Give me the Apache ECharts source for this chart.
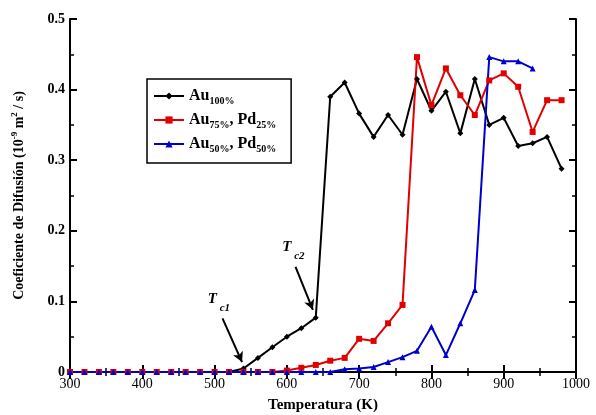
<!DOCTYPE html>
<html>
<head>
<meta charset="utf-8">
<script src="https://cdn.jsdelivr.net/npm/echarts@6/dist/echarts.min.js"></script>
<style>
  html, body { margin: 0; padding: 0; background: #fff; }
  #main { width: 596px; height: 415px; }
</style>
</head>
<body>
<div id="main"></div>
<script>
// temperaturas (K) y coeficientes de difusion (10^-9 m^2/s)
var tempAu = [300, 320, 340, 360, 380, 400, 420, 440, 460, 480, 500, 520, 540, 560, 580, 600, 620, 640,
    660, 680, 700, 720, 740, 760, 780, 800, 820, 840, 860, 880, 900, 920, 940, 960, 980];
var difAu = [0, 0, 0, 0, 0, 0, 0, 0, 0, 0, 0, 0, 0.005, 0.02, 0.035, 0.05, 0.062, 0.077,
    0.39, 0.41, 0.366, 0.333, 0.364, 0.336, 0.415, 0.37, 0.397, 0.338, 0.415, 0.35, 0.36, 0.32, 0.324, 0.333, 0.288];

var tempAu75 = [300, 320, 340, 360, 380, 400, 420, 440, 460, 480, 500, 520, 540, 560, 580, 600, 620, 640,
    660, 680, 700, 720, 740, 760, 780, 800, 820, 840, 860, 880, 900, 920, 940, 960, 980];
var difAu75 = [0, 0, 0, 0, 0, 0, 0, 0, 0, 0, 0, 0, 0, 0, 0, 0.002, 0.006, 0.01,
    0.016, 0.02, 0.047, 0.044, 0.069, 0.095, 0.446, 0.378, 0.43, 0.392, 0.364, 0.413, 0.423, 0.404, 0.34, 0.385, 0.385];

var tempAu50 = [300, 320, 340, 360, 380, 400, 420, 440, 460, 480, 500, 520, 540, 560, 580, 600, 620, 640,
    660, 680, 700, 720, 740, 760, 780, 800, 820, 840, 860, 880, 900, 920, 940];
var difAu50 = [0, 0, 0, 0, 0, 0, 0, 0, 0, 0, 0, 0, 0, 0, 0, 0, 0, 0,
    0, 0.004, 0.005, 0.007, 0.014, 0.021, 0.03, 0.064, 0.024, 0.069, 0.116, 0.446, 0.44, 0.44, 0.43];

var nombres = ['Au100', 'Au75Pd25', 'Au50Pd50'];
var etiquetas = {
    'Au100': '{n|Au}{s|100%}',
    'Au75Pd25': '{n|Au}{s|75%}{n|, Pd}{s|25%}',
    'Au50Pd50': '{n|Au}{s|50%}{n|, Pd}{s|50%}'
};

function pares(xs, ys) {
    var out = [];
    for (var i = 0; i < xs.length; i++) out.push([xs[i], ys[i]]);
    return out;
}

var fuente = 'Liberation Serif';
var richSub = {
    n: { fontFamily: fuente, fontSize: 16, fontWeight: 'bold', color: '#000', lineHeight: 20, verticalAlign: 'middle' },
    s: { fontFamily: fuente, fontSize: 10, fontWeight: 'bold', color: '#000', lineHeight: 20, verticalAlign: 'bottom' }
};

var ejeX = {
    type: 'value', min: 300, max: 1000, interval: 100,
    axisLine: { lineStyle: { color: '#000', width: 2 } },
    axisTick: { inside: true, length: 7, lineStyle: { color: '#000', width: 2 } },
    minorTick: { show: true, splitNumber: 2, length: 4, lineStyle: { color: '#000', width: 1.5 } },
    splitLine: { show: false }
};
var ejeY = {
    type: 'value', min: 0, max: 0.5, interval: 0.1,
    axisLine: { lineStyle: { color: '#000', width: 2 } },
    axisTick: { inside: true, length: 7, lineStyle: { color: '#000', width: 2 } },
    minorTick: { show: true, splitNumber: 2, length: 4, lineStyle: { color: '#000', width: 1.5 } },
    splitLine: { show: false }
};

var chart = echarts.init(document.getElementById('main'));
var option = {
    animation: false,
    grid: { left: 70, right: 20, top: 19, bottom: 43, outerBoundsMode: 'none' },
    legend: {
        data: nombres,
        orient: 'vertical',
        left: 147, top: 79,
        padding: [9, 15, 9, 6],
        itemGap: 6,
        itemWidth: 30, itemHeight: 9,
        borderColor: '#000', borderWidth: 1.5,
        formatter: function (name) { return etiquetas[name]; },
        textStyle: { rich: richSub }
    },
    xAxis: [
        Object.assign({}, ejeX, {
            position: 'bottom',
            name: 'Temperatura (K)', nameLocation: 'middle', nameGap: 26,
            nameTextStyle: { fontFamily: fuente, fontSize: 15, fontWeight: 'bold', color: '#000' },
            axisLabel: { fontFamily: fuente, fontSize: 14, color: '#000', margin: 5, formatter: function (v) { return String(v); } }
        }),
        Object.assign({}, ejeX, { position: 'top', axisLabel: { show: false } })
    ],
    yAxis: [
        Object.assign({}, ejeY, {
            position: 'left',
            name: '{n|Coeficiente de Difusión (10}{p|-9}{n| m}{p|2}{n| / s)}',
            nameLocation: 'middle', nameGap: 42,
            nameTextStyle: {
                rich: {
                    n: { fontFamily: fuente, fontSize: 14, fontWeight: 'bold', color: '#000', lineHeight: 18, verticalAlign: 'middle' },
                    p: { fontFamily: fuente, fontSize: 9, fontWeight: 'bold', color: '#000', lineHeight: 18, verticalAlign: 'top' }
                }
            },
            axisLabel: { fontFamily: fuente, fontSize: 14, fontWeight: 'bold', color: '#000', margin: 5 }
        }),
        Object.assign({}, ejeY, { position: 'right', axisLabel: { show: false } })
    ],
    series: [
        {
            name: 'Au100', type: 'line', data: pares(tempAu, difAu),
            symbol: 'diamond', symbolSize: 6,
            lineStyle: { color: '#000', width: 2 },
            itemStyle: { color: '#000' },
            markLine: {
                silent: true, symbol: ['none', 'arrow'], symbolSize: [8, 10],
                label: { show: false },
                lineStyle: { color: '#000', width: 2, type: 'solid' },
                data: [
                    [{ coord: [511, 0.076] }, { coord: [538, 0.014] }],
                    [{ coord: [612, 0.149] }, { coord: [636, 0.088] }]
                ]
            },
            markPoint: {
                symbol: 'circle', symbolSize: 1,
                itemStyle: { color: 'rgba(0,0,0,0)' },
                label: {
                    show: true,
                    rich: {
                        t: { fontFamily: fuente, fontSize: 15, fontStyle: 'italic', fontWeight: 'bold', color: '#000', lineHeight: 22, verticalAlign: 'top' },
                        s: { fontFamily: fuente, fontSize: 11, fontStyle: 'italic', fontWeight: 'bold', color: '#000', lineHeight: 22, verticalAlign: 'bottom' }
                    }
                },
                data: [
                    { coord: [506, 0.098], label: { formatter: '{t|T}{s| c1}' } },
                    { coord: [609, 0.172], label: { formatter: '{t|T}{s| c2}' } }
                ]
            }
        },
        {
            name: 'Au75Pd25', type: 'line', data: pares(tempAu75, difAu75),
            symbol: 'rect', symbolSize: 6,
            lineStyle: { color: '#e00000', width: 2 },
            itemStyle: { color: '#e00000' }
        },
        {
            name: 'Au50Pd50', type: 'line', data: pares(tempAu50, difAu50),
            symbol: 'triangle', symbolSize: 6,
            lineStyle: { color: '#0000cc', width: 2 },
            itemStyle: { color: '#0000cc' }
        }
    ]
};
chart.setOption(option);
</script>
</body>
</html>
